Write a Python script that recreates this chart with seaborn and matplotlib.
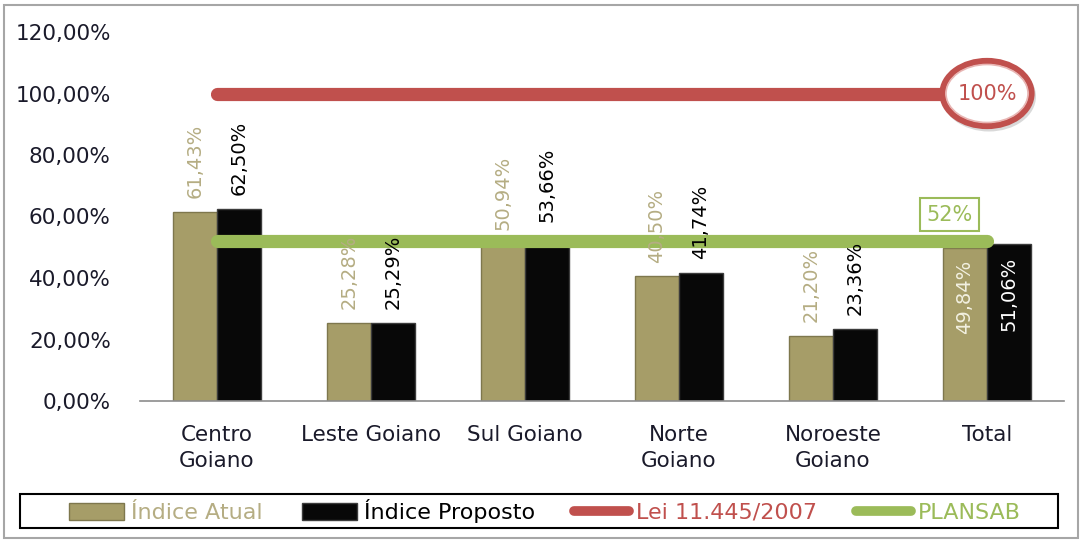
import numpy as np
import pandas as pd
import matplotlib
matplotlib.use("Agg")
import matplotlib.pyplot as plt
import seaborn as sns
from matplotlib.patches import Patch, Ellipse, Rectangle
from matplotlib.lines import Line2D
from matplotlib.transforms import ScaledTranslation

# ---- data ----
categories = ["Centro\nGoiano", "Leste Goiano", "Sul Goiano", "Norte\nGoiano", "Noroeste\nGoiano", "Total"]
indice_atual = [61.43, 25.28, 50.94, 40.50, 21.20, 49.84]
indice_proposto = [62.50, 25.29, 53.66, 41.74, 23.36, 51.06]
series_names = ["Índice Atual", "Índice Proposto"]
lei_value = 100.0
plansab_value = 52.0
line_names = ["Lei 11.445/2007", "PLANSAB"]
y_ticks = [0, 20, 40, 60, 80, 100, 120]

OLIVE = "#A69D68"
BLACK = "#080808"
RED = "#C0504D"
GREEN = "#9BBB59"
OLIVE_TXT = "#B5AD83"

df = pd.DataFrame({
    "Região": categories * 2,
    "Série": [series_names[0]] * len(categories) + [series_names[1]] * len(categories),
    "Valor": indice_atual + indice_proposto,
})

sns.set_theme(style="white")
plt.rcParams["font.family"] = ["DejaVu Sans"]

fig = plt.figure(figsize=(10.86, 5.43), dpi=100)
ax = fig.add_axes([140 / 1086, (543 - 401) / 543, 924 / 1086, (401 - 32) / 543])

sns.barplot(data=df, x="Região", y="Valor", hue="Série", order=categories,
            hue_order=series_names, palette=[OLIVE, BLACK], saturation=1,
            width=0.57, gap=0, ax=ax, legend=False, zorder=2)

for cont, ec in zip(ax.containers, ["#7E774D", "#3C3C3C"]):
    for b in cont:
        b.set_edgecolor(ec)
        b.set_linewidth(1.0)

xs = np.arange(len(categories))
ax.plot(xs, [lei_value] * len(xs), color=RED, lw=9.5, solid_capstyle="round", zorder=4)
ax.plot(xs, [plansab_value] * len(xs), color=GREEN, lw=9.5, solid_capstyle="round", zorder=4)

# data labels
last = len(categories) - 1
for si, cont in enumerate(ax.containers):
    vals = [indice_atual, indice_proposto][si]
    for i, b in enumerate(cont):
        cx = b.get_x() + b.get_width() / 2
        v = vals[i]
        txt = f"{v:.2f}%".replace(".", ",")
        if i == last:
            ax.annotate(txt, (cx, v), xytext=(0, -9), textcoords="offset points",
                        rotation=90, ha="center", va="top", fontsize=14,
                        color="#F2F0E0" if si == 0 else "white", zorder=6)
        else:
            ax.annotate(txt, (cx, v), xytext=(0, 10), textcoords="offset points",
                        rotation=90, ha="center", va="bottom", fontsize=14,
                        color=OLIVE_TXT if si == 0 else "black", zorder=6)

# 100% ellipse marker label
tr = fig.dpi_scale_trans + ScaledTranslation(last, lei_value, ax.transData)
shadow = Ellipse((0.02, -0.03), 0.94, 0.70, transform=tr, fc="#D9D9D9", ec="none", zorder=6)
ell = Ellipse((0, 0), 0.89, 0.65, transform=tr, fc="white", ec=RED, lw=4.5, zorder=7)
ell_in = Ellipse((0, 0), 0.82, 0.58, transform=tr, fc="none", ec="#E8B5B3", lw=1.2, zorder=7)
for p in (shadow, ell, ell_in):
    p.set_clip_on(False)
    ax.add_patch(p)
ax.annotate("100%", (last, lei_value), ha="center", va="center", fontsize=15,
            color=RED, zorder=8, annotation_clip=False)

# 52% box label
ax.annotate(f"{plansab_value:.0f}%", (last, plansab_value), xytext=(-27, 19),
            textcoords="offset points", ha="center", va="center", fontsize=15,
            color=GREEN, zorder=8,
            bbox=dict(boxstyle="square,pad=0.32", fc="white", ec=GREEN, lw=1.5))

# axes styling
ax.set_ylim(0, 120)
ax.set_xlim(-0.5, len(categories) - 0.5)
ax.set_yticks(y_ticks)
ax.set_yticklabels([f"{t:.2f}%".replace(".", ",") for t in y_ticks], fontsize=15.5, color="#1A1A2A")
ax.tick_params(axis="y", length=0, pad=21)
ax.set_xticks(xs)
ax.set_xticklabels(categories, fontsize=15.5, color="#1A1A2A", linespacing=1.4)
ax.tick_params(axis="x", which="major", length=0, pad=17)
ax.set_xticks(np.arange(-0.5, len(categories), 1.0), minor=True)
ax.tick_params(axis="x", which="minor", length=7, width=1.2, color="#8C8C8C", direction="out")
ax.set_xlabel("")
ax.set_ylabel("")
for s in ("top", "right", "left"):
    ax.spines[s].set_visible(False)
ax.spines["bottom"].set_color("#8C8C8C")
ax.spines["bottom"].set_linewidth(1.2)
ax.grid(False)

# legend
handles = [
    Patch(facecolor=OLIVE, edgecolor="#7E774D"),
    Patch(facecolor=BLACK, edgecolor="#3C3C3C"),
    Line2D([0], [0], color=RED, lw=7, solid_capstyle="round"),
    Line2D([0], [0], color=GREEN, lw=7, solid_capstyle="round"),
]
labels = series_names + line_names
leg = fig.legend(handles, labels, loc="center",
                 bbox_to_anchor=(545 / 1086, (543 - 511) / 543),
                 ncol=4, frameon=False, handlelength=2.5, handleheight=0.8,
                 handletextpad=0.3, columnspacing=1.75, borderaxespad=0, borderpad=0,
                 prop={"size": 16})
for t, c in zip(leg.get_texts(), [OLIVE_TXT, "black", RED, GREEN]):
    t.set_color(c)

# legend frame
fig.patches.append(Rectangle((20 / 1086, (543 - 528) / 543), 1038 / 1086, 34 / 543,
                             transform=fig.transFigure, fill=False,
                             ec="black", lw=1.5))
# outer border
fig.patches.append(Rectangle((4 / 1086, 5 / 543), 1074 / 1086, 533 / 543,
                             transform=fig.transFigure, fill=False,
                             ec="#A6A6A6", lw=1.5))

fig.savefig("out.png", dpi=100)
